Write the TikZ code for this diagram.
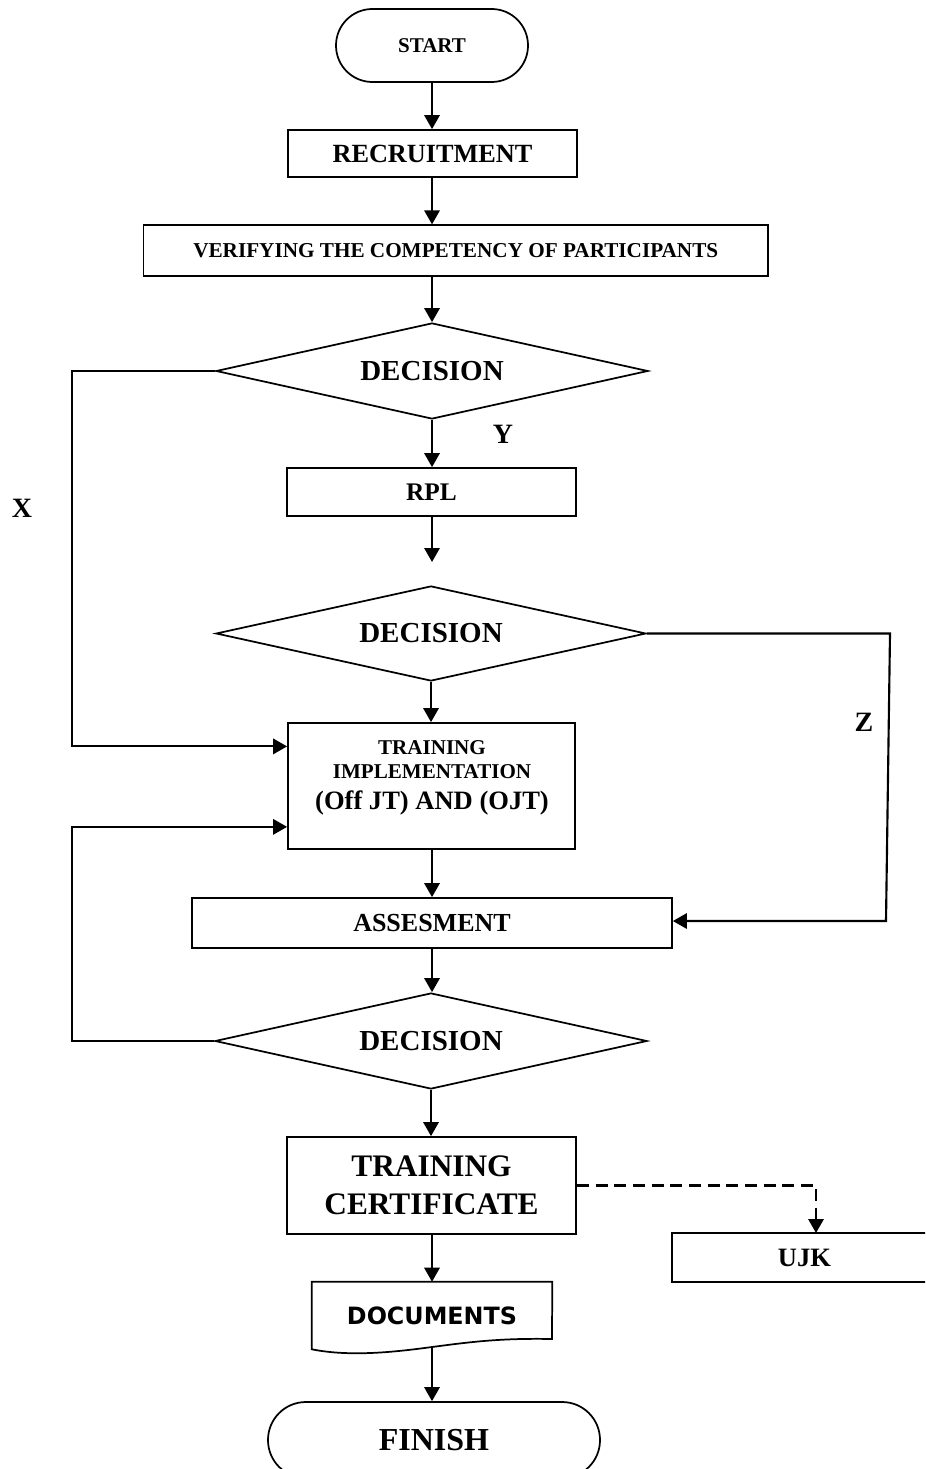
\documentclass[tikz,border=0pt]{standalone}
\usepackage{fontspec}
\setmainfont{Liberation Serif}
\newfontfamily\docfont{DejaVu Sans}
\usetikzlibrary{arrows.meta,shapes.geometric,calc}
\newcommand{\fsz}[2]{\fontsize{#1}{#2}\selectfont\bfseries}
\begin{document}
\begin{tikzpicture}[x=0.75pt,y=-0.75pt,
  shp/.style={draw,line width=1.3pt,inner sep=0pt},
  box/.style={shp,rectangle},
  dia/.style={shp,diamond,shape aspect=4.5,minimum width=324pt,minimum height=72pt},
  con/.style={line width=1.6pt,-{Triangle[length=10.5pt,width=11.5pt]}},
  lbl/.style={inner sep=0pt,font=\fsz{21pt}{24pt}},
]
\clip (0,0) rectangle (925,1469);
% nodes
\node[box,rounded corners=27.3pt,minimum width=144pt,minimum height=54.75pt] (start) at (432,45.5) {\fsz{15.75pt}{19pt}START};
\node[box,minimum width=216.75pt,minimum height=35.25pt] (recr) at (432.5,153.5) {\fsz{19.7pt}{23pt}RECRUITMENT};
\node[box,minimum width=468.4pt,minimum height=38.25pt] (verify) at (455.75,250.75) {\fsz{15.9pt}{19pt}VERIFYING THE COMPETENCY OF PARTICIPANTS};
\node[dia] (dec1) at (432,371) {\fsz{21.75pt}{25pt}DECISION};
\node[box,minimum width=216.75pt,minimum height=36pt] (rpl) at (431.5,492) {\fsz{19pt}{22pt}RPL};
\coordinate (rplend) at (432,562);
\node[dia,minimum width=322.5pt,minimum height=71.25pt] (dec2) at (431,633.5) {\fsz{21.75pt}{25pt}DECISION};
\node[box,minimum width=215.25pt,minimum height=94.5pt] (train) at (431.5,786) {};
\node[inner sep=0pt,anchor=base] (tr1) at (432,754) {\fsz{15.8pt}{18pt}TRAINING};
\node[inner sep=0pt,anchor=base] (tr2) at (432,778) {\fsz{15.8pt}{18pt}IMPLEMENTATION};
\node[inner sep=0pt,anchor=base] (tr3) at (432,809) {\fsz{19.9pt}{23pt}(Off JT) AND (OJT)};
\node[box,minimum width=360pt,minimum height=37.5pt] (assess) at (432,923) {\fsz{19.5pt}{23pt}ASSESMENT};
\node[dia] (dec3) at (431,1041) {\fsz{21.75pt}{25pt}DECISION};
\node[box,minimum width=216.75pt,minimum height=72.75pt,align=center,font=\fsz{23.5pt}{28.5pt}] (cert) at (431.5,1185.5) {TRAINING\\CERTIFICATE};
\node[box,minimum width=198.75pt,minimum height=36.75pt] (ujk) at (804.5,1257.5) {\fsz{19.9pt}{23pt}UJK};
\coordinate (ujktop) at (816,1233);
\node[inner sep=0pt,minimum width=180pt,minimum height=50.25pt] (docs) at (432,1315.5) {\docfont\fontsize{17.85pt}{21pt}\selectfont\bfseries DOCUMENTS};
\draw[line width=1.3pt] (docs.north west) -- (docs.north east) -- (552,1339)
  .. controls (500,1338) and (470,1342) .. (432,1347)
  .. controls (395,1352) and (350,1357) .. (docs.south west) -- cycle;
\coordinate (docsbot) at (432,1347);
\node[box,rounded corners=28.4pt,minimum width=249pt,minimum height=57pt] (finish) at (434,1440) {\fsz{24pt}{28pt}FINISH};
% labels
\node[lbl] (ylab) at (503,434) {Y};
\node[lbl] (xlab) at (22,508) {X};
\node[lbl] (zlab) at (864,722) {Z};
% connectors
\draw[con] (start.south) -- (recr.north -| start.south);
\draw[con] (recr.south -| dec1.north) -- (verify.north -| dec1.north);
\draw[con] (verify.south -| dec1.north) -- (dec1.north);
\draw[con] (dec1.south) -- (rpl.north -| dec1.south);
\draw[con] (rpl.south -| rplend) -- (rplend);
\draw[con] (dec2.south) -- (train.north -| dec2.south);
\coordinate (xa) at (72,371);
\coordinate (xin) at ($(train.north west)!0.19!(train.south west)$);
\draw[con] (dec1.west) -- (xa) |- (xin);
\coordinate (z1) at (890,633.5);
\coordinate (z2) at (886,921);
\draw[con] (dec2.east) -- (z1) -- (z2) -- (z2 -| assess.east);
\draw[con] (train.south -| assess.north) -- (assess.north);
\draw[con] (assess.south) -- (dec3.north -| assess.south);
\coordinate (la) at (72,1041);
\coordinate (lin) at ($(train.north west)!0.82!(train.south west)$);
\draw[con] (dec3.west) -- (la) |- (lin);
\draw[con] (dec3.south) -- (cert.north -| dec3.south);
\draw[con,dash pattern=on 9pt off 5pt] (cert.east) -| (ujktop);
\draw[con] (cert.south -| docs.north) -- (docs.north);
\draw[con] (docsbot) -- (finish.north -| docsbot);
\end{tikzpicture}
\end{document}
